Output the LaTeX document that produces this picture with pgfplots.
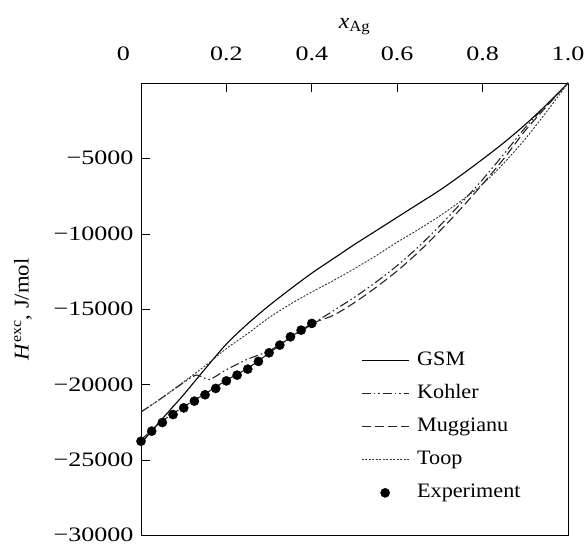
\documentclass[border=0pt]{standalone}
\usepackage{fontspec}
\setmainfont{Liberation Serif}[FakeStretch=1.08]
\newfontfamily\tickfont{Liberation Serif}
\usepackage{graphicx}
\usepackage{pgfplots}
\pgfplotsset{compat=1.18}
\newcommand{\tl}[1]{\scalebox{1.27}[1]{#1}}
\pgfplotsset{
  linelegend/.style={legend image code/.code={\draw[##1] (0pt,0pt) -- (47pt,0pt);}},
  dotlegend/.style={legend image code/.code={\draw[##1,mark repeat=2,mark phase=2] plot coordinates {(0pt,0pt) (23.5pt,0pt) (47pt,0pt)};}},
}

\begin{document}
\begin{tikzpicture}[x=1pt,y=1pt]
\useasboundingbox (0,0) rectangle (585,544);
\begin{axis}[at={(141pt,8.3pt)},anchor=south west,scale only axis,width=427pt,height=452.7pt,
  xmin=0,xmax=1,ymin=-30000,ymax=0,
  scaled x ticks=false,scaled y ticks=false,
  xtick={0,0.2,0.4,0.6,0.8,1},
  xticklabels={\makebox[0pt][r]{\tl{0}\hspace*{11pt}},\tl{0.2},\tl{0.4},\tl{0.6},\tl{0.8},\tl{1.0}},
  ytick={-30000,-25000,-20000,-15000,-10000,-5000},
  yticklabels={\tl{−30000},\tl{−25000},\tl{−20000},\tl{−15000},\tl{−10000},\tl{−5000}},
  xtick pos=right,xticklabel pos=right,ytick pos=left,
  tick align=inside,major tick length=9pt,
  tick style={black,line width=0.8pt},
  axis line style={line width=0.9pt},
  tick label style={font=\tickfont\fontsize{20.5}{24}\selectfont},
  xticklabel style={anchor=center,yshift=29pt},
  yticklabel style={anchor=east,xshift=-4pt,yshift=0.5pt},
  xlabel={\textit{x}\textsubscript{Ag}},
  xlabel style={font=\fontsize{22}{26}\selectfont,at={(axis description cs:0.5,1)},anchor=center,yshift=56pt},
  ylabel={\textit{H}\textsuperscript{exc}, J/mol},
  ylabel style={font=\fontsize{21}{26}\selectfont,at={(axis description cs:0,0.5)},anchor=center,yshift=118pt},
  legend style={draw=none,fill=white,at={(axis description cs:0.515,0.411)},anchor=north west,inner sep=0pt,
    row sep=11pt,column sep=6pt,font=\fontsize{20.5}{24}\selectfont,
    nodes={inner sep=2pt,text height=14pt,text depth=4pt}},
  legend cell align=left,
  linelegend,
]
\addplot[black,line width=1.1pt,smooth,tension=0.5] coordinates {
(0,-23900) (0.025,-23050) (0.05,-22250) (0.075,-21450) (0.1,-20650) (0.15,-18950)
(0.2,-17300) (0.25,-15950) (0.3,-14750) (0.35,-13650) (0.4,-12600) (0.45,-11650)
(0.5,-10700) (0.55,-9800) (0.6,-8900) (0.65,-8000) (0.7,-7100) (0.75,-6100)
(0.8,-5050) (0.85,-3950) (0.9,-2750) (0.95,-1430) (1,0)};
\addlegendentry{GSM}
\addplot[black!85,line width=1.1pt,smooth,tension=0.4,dash pattern=on 9pt off 3pt on 1.5pt off 3pt on 1.5pt off 3pt] coordinates {
(0,-21800) (0.05,-20850) (0.1,-19850) (0.13,-19350) (0.16,-19650) (0.2,-19000)
(0.25,-18300) (0.3,-17750) (0.35,-16900) (0.4,-16000) (0.45,-15100) (0.5,-14200)
(0.55,-13200) (0.6,-12100) (0.65,-10850) (0.7,-9450) (0.75,-7950) (0.8,-6400)
(0.85,-4700) (0.9,-2950) (0.95,-1450) (1,0)};
\addlegendentry{Kohler}
\addplot[black!85,line width=1.1pt,smooth,tension=0.5,dash pattern=on 9pt off 4pt] coordinates {
(0,-23650) (0.05,-22400) (0.1,-21450) (0.15,-20600) (0.2,-19700) (0.25,-18900)
(0.3,-17900) (0.35,-16850) (0.4,-15950) (0.45,-15400) (0.5,-14550) (0.55,-13550)
(0.6,-12450) (0.65,-11200) (0.7,-9800) (0.75,-8300) (0.8,-6700) (0.85,-5000)
(0.9,-3150) (0.95,-1550) (1,0)};
\addlegendentry{Muggianu}
\addplot[black!80,line width=0.9pt,smooth,tension=0.5,dash pattern=on 2pt off 1.5pt] coordinates {
(0,-21800) (0.05,-20850) (0.1,-19800) (0.15,-18750) (0.2,-17600) (0.25,-16600)
(0.3,-15550) (0.35,-14650) (0.4,-13850) (0.45,-13100) (0.5,-12300) (0.55,-11450)
(0.6,-10550) (0.65,-9700) (0.7,-8800) (0.75,-7800) (0.8,-6700) (0.85,-5300)
(0.9,-3700) (0.95,-1900) (1,0)};
\addlegendentry{Toop}
\addplot[only marks,mark=*,mark size=4.6pt,black,dotlegend] coordinates {
(0,-23740) (0.025,-23070) (0.05,-22500) (0.075,-21970) (0.1,-21530) (0.125,-21080)
(0.15,-20660) (0.175,-20240) (0.2,-19740) (0.225,-19360) (0.25,-18960) (0.275,-18450)
(0.3,-17880) (0.325,-17370) (0.35,-16820) (0.375,-16380) (0.4,-15930)};
\addlegendentry{Experiment}
\end{axis}
\end{tikzpicture}
\end{document}
